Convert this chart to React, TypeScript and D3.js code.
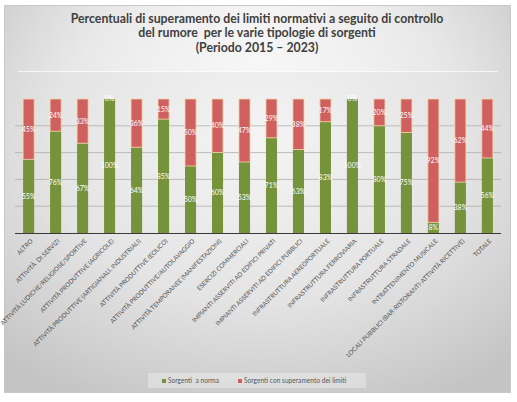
import * as d3 from "d3";

const categories = [
  "ALTRO",
  "ATTIVITÀ  DI SERVIZI",
  "ATTIVITÀ LUDICHE/RELIGIOSE/SPORTIVE",
  "ATTIVITÀ PRODUTTIVE (AGRICOLE)",
  "ATTIVITÀ PRODUTTIVE (ARTIGIANALI, INDUSTRIALI)",
  "ATTIVITÀ PRODUTTIVE (EOLICO)",
  "ATTIVITÀ PRODUTTIVE/AUTOLAVAGGIO",
  "ATTIVITÀ TEMPORANEE (MANIFESTAZIONI)",
  "ESERCIZI COMMERCIALI",
  "IMPIANTI ASSERVITI AD EDIFICI PRIVATI",
  "IMPIANTI ASSERVITI AD EDIFICI PUBBLICI",
  "INFRASTRUTTURA AEREOPORTUALE",
  "INFRASTRUTTURA FERROVIARIA",
  "INFRASTRUTTURA PORTUALE",
  "INFRASTRUTTURA STRADALE",
  "INTRATTENIMENTO MUSICALE",
  "LOCALI PUBBLICI (BAR-RISTORANTI-ATTIVITÀ RICETTIVE)",
  "TOTALE",
];

// percentuali sorgenti a norma / con superamento
const aNorma = [55, 76, 67, 100, 64, 85, 50, 60, 53, 71, 63, 83, 100, 80, 75, 8, 38, 56];
const superamento = [45, 24, 33, 0, 36, 15, 50, 40, 47, 29, 38, 17, 0, 20, 25, 92, 62, 44];

const seriesNames = ["Sorgenti  a norma", "Sorgenti con superamento dei limiti"];
const seriesColors = ["#76933c", "#d0605f"];
const gridTicks = [0, 0.2, 0.4, 0.6, 0.8, 1];

const titleLines = [
  "Percentuali di superamento dei limiti normativi a seguito di controllo",
  "del rumore  per le varie tipologie di sorgenti",
  "(Periodo 2015 – 2023)",
];

const W = 517;
const H = 402;
const FONT = "Lato, 'Open Sans', sans-serif";

export default function App() {
  const rows = categories.map((c, i) => ({ cat: c, norma: aNorma[i], sup: superamento[i] }));
  const keys = ["norma", "sup"];
  const stacked = d3
    .stack<(typeof rows)[0]>()
    .keys(keys)
    .offset(d3.stackOffsetExpand)(rows as any);

  const x = d3.scaleBand<string>().domain(categories).range([15, 501]).paddingInner(0.59).paddingOuter(0.3);
  const y = d3.scaleLinear().domain([0, 1]).range([233, 99]);

  const labelOf = (k: number, i: number) => (k === 0 ? aNorma[i] : superamento[i]);

  return (
    <svg
      width={W}
      height={H}
      style={{ position: "absolute", left: 0, top: 0, display: "block" }}
      fontFamily={FONT}
    >
      <defs>
        <radialGradient id="bg" cx="50%" cy="35%" r="75%">
          <stop offset="0%" stopColor="#f4f4f4" />
          <stop offset="55%" stopColor="#e4e4e4" />
          <stop offset="100%" stopColor="#c4c4c4" />
        </radialGradient>
        <linearGradient id="head" x1="0" x2="1" y1="0" y2="0">
          <stop offset="0%" stopColor="#ffffff" stopOpacity={0} />
          <stop offset="50%" stopColor="#ffffff" stopOpacity={0.55} />
          <stop offset="100%" stopColor="#ffffff" stopOpacity={0} />
        </linearGradient>
      </defs>
      <rect width={W} height={H} fill="#ffffff" />
      <rect x={4.5} y={5.5} width={506} height={387} fill="url(#bg)" stroke="#c8c8c8" />
      <rect x={5} y={6} width={505} height={66} fill="url(#head)" />
      <line x1={18} x2={498} y1={71.5} y2={71.5} stroke="#ffffff" strokeOpacity={0.7} />

      {titleLines.map((t, i) => (
        <text
          key={i}
          x={257}
          y={22.5 + i * 14.8}
          textAnchor="middle"
          fontSize={12.3}
          fontWeight={700}
          fill="#404040"
          style={{ whiteSpace: "pre" }}
        >
          {t}
        </text>
      ))}

      {/* griglia */}
      {gridTicks.slice(1, -1).map((t) => (
        <line key={t} x1={15} x2={501} y1={y(t)} y2={y(t)} stroke="#a6a6a6" strokeOpacity={0.7} strokeWidth={1} />
      ))}

      {/* barre impilate al 100% */}
      {stacked.map((s, k) => (
        <g key={s.key}>
          {s.map((d, i) => {
            const h = y(d[0]) - y(d[1]);
            return (
              <rect
                key={i}
                x={x(categories[i])}
                y={y(d[1])}
                width={x.bandwidth()}
                height={Math.max(0, h)}
                fill={seriesColors[k]}
                stroke={k === 1 && h > 0 ? "#f2d6a6" : "none"}
                strokeWidth={0.8}
              />
            );
          })}
        </g>
      ))}
      {stacked.map((s, k) => (
        <g key={"l" + s.key}>
          {s.map((d, i) => (
            <text
              key={i}
              x={(x(categories[i]) ?? 0) + x.bandwidth() / 2}
              y={(y(d[0]) + y(d[1])) / 2}
              dy="0.35em"
              textAnchor="middle"
              fontSize={7}
              fill="#ffffff"
            >
              {labelOf(k, i)}%
            </text>
          ))}
        </g>
      ))}

      <line x1={15} x2={501} y1={233.5} y2={233.5} stroke="#3a3a3a" strokeWidth={1} />

      {/* etichette categorie */}
      {categories.map((c) => {
        const cx = (x(c) ?? 0) + x.bandwidth() / 2 + 3;
        const cy = 240;
        return (
          <text
            key={c}
            x={cx}
            y={cy}
            textAnchor="end"
            fontSize={6.2}
            fill="#505050"
            transform={`rotate(-45 ${cx} ${cy})`}
            dy="0.35em"
            style={{ whiteSpace: "pre" }}
          >
            {c}
          </text>
        );
      })}

      {/* legenda */}
      <rect x={148} y={373} width={218} height={15} fill="#ffffff" fillOpacity={0.3} />
      {seriesNames.map((n, k) => {
        const lx = k === 0 ? 162 : 238;
        return (
          <g key={n}>
            <rect x={lx} y={379} width={4} height={4} fill={seriesColors[k]} />
            <text x={lx + 6} y={381} dy="0.35em" fontSize={6.6} fill="#595959" style={{ whiteSpace: "pre" }}>
              {n}
            </text>
          </g>
        );
      })}
    </svg>
  );
}
